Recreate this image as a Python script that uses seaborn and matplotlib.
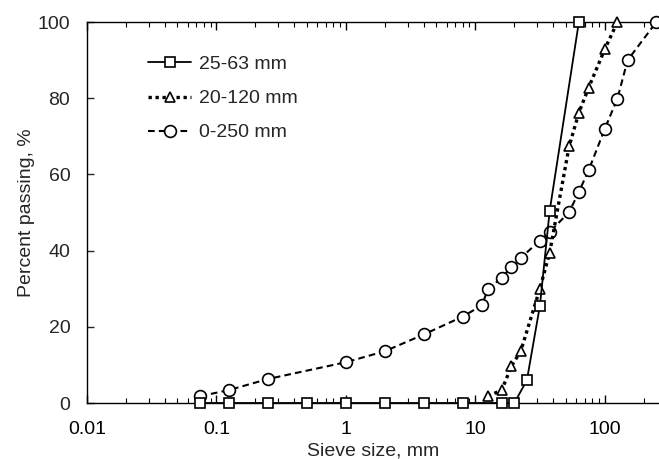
import matplotlib
matplotlib.use("Agg")
import matplotlib.pyplot as plt
import seaborn as sns

# sieve sizes (mm) and percent passing
size_25_63 = [0.075, 0.125, 0.25, 0.5, 1, 2, 4, 8, 16, 20, 25, 31.5, 37.5, 63]
pass_25_63 = [0, 0, 0, 0, 0, 0, 0, 0, 0, 0, 6, 25.5, 50.5, 100]

size_20_120 = [12.5, 16, 19, 22.4, 31.5, 37.5, 53, 63, 75, 100, 125]
pass_20_120 = [1.8, 3.4, 9.7, 13.6, 30, 39.5, 67.4, 76.2, 82.8, 92.9, 100]

size_0_250 = [0.075, 0.125, 0.25, 1, 2, 4, 8, 11.2, 12.5, 16, 19, 22.4,
              31.5, 37.5, 53, 63, 75, 100, 125, 150, 250]
pass_0_250 = [1.8, 3.4, 6.3, 10.7, 13.6, 18, 22.7, 25.6, 29.8, 32.9, 35.8, 38.1,
              42.6, 44.9, 50.1, 55.4, 61.1, 72, 79.9, 90, 100]

xtick_vals = [0.01, 0.1, 1, 10, 100]
xtick_labels = ["0.01", "0.1", "1", "10", "100"]

sns.set_style("ticks")
plt.rcParams["font.family"] = ["Liberation Sans", "DejaVu Sans"]
plt.rcParams["font.size"] = 14

fig = plt.figure(figsize=(6.59, 4.59), dpi=100)
ax = fig.add_axes([0.132, 0.122, 0.868, 0.830])

common = dict(color="black", markerfacecolor="white", markeredgecolor="black",
              markeredgewidth=1.2, clip_on=False, estimator=None, sort=False, ax=ax)

sns.lineplot(x=size_25_63, y=pass_25_63, marker="s", markersize=7.8,
             linestyle="-", linewidth=1.3, label="25-63 mm", zorder=5, **common)
sns.lineplot(x=size_20_120, y=pass_20_120, marker="^", markersize=7,
             linestyle=(0, (1, 1.1)), linewidth=2.4, label="20-120 mm", zorder=4, **common)
sns.lineplot(x=size_0_250, y=pass_0_250, marker="o", markersize=8.5,
             linestyle=(0, (3.2, 2)), linewidth=1.5, label="0-250 mm", zorder=3, **common)

ax.set_xscale("log")
ax.set_xlim(0.01, 262)
ax.set_ylim(0, 100)
ax.set_xticks(xtick_vals)
ax.set_xticklabels(xtick_labels)
ax.set_yticks([0, 20, 40, 60, 80, 100])

ax.tick_params(axis="x", which="both", direction="in", top=True, bottom=True, pad=13, colors="black")
ax.tick_params(axis="x", which="major", length=6, width=1)
ax.tick_params(axis="x", which="minor", length=3.5, width=0.8)
ax.tick_params(axis="y", direction="in", length=5, width=1, pad=12, left=True, right=False)

for side in ["left", "bottom", "top"]:
    ax.spines[side].set_color("black")
    ax.spines[side].set_linewidth(1)
ax.spines["right"].set_visible(False)

ax.set_xlabel("Sieve size, mm", labelpad=3.5)
ax.set_ylabel("Percent passing, %", labelpad=2)

leg = ax.legend(loc="upper left", bbox_to_anchor=(0.107, 0.912), frameon=False,
                borderpad=0, borderaxespad=0, handlelength=2.2, handletextpad=0.4,
                labelspacing=0.85, numpoints=1)

fig.savefig("out.png", dpi=100)
